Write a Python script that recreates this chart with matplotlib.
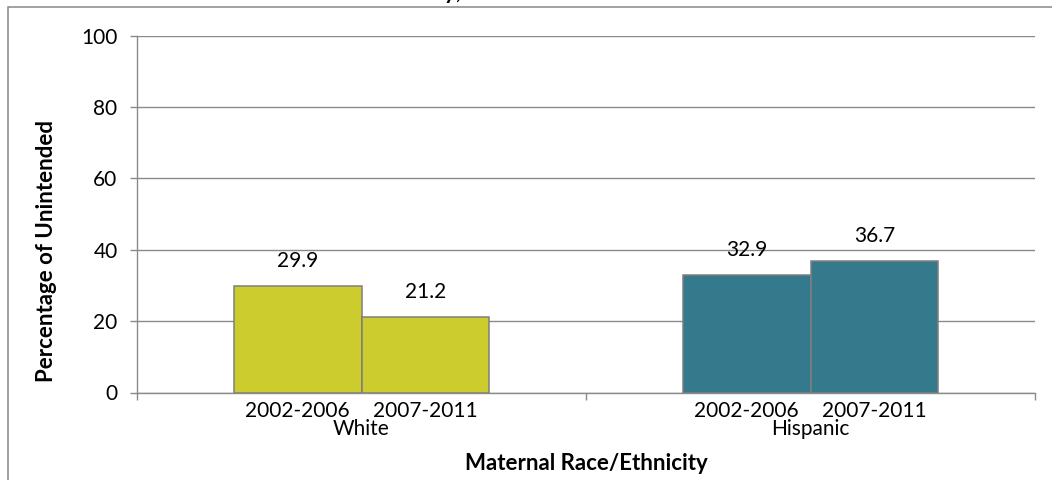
import matplotlib
matplotlib.use("Agg")
import matplotlib.pyplot as plt
from matplotlib.patches import Rectangle
import numpy as np

plt.rcParams['font.family'] = ['Lato', 'DejaVu Sans']

groups = ["White", "Hispanic"]
periods = ["2002-2006", "2007-2011"]
values = {"White": [29.9, 21.2], "Hispanic": [32.9, 36.7]}
group_colors = {"White": "#CDCC2F", "Hispanic": "#357A8C"}
y_ticks = [0, 20, 40, 60, 80, 100]
title = "Sutter County, 2002-2006 and 2007-2011"
y_label = "Percentage of Unintended"
x_label = "Maternal Race/Ethnicity"

W, H = 1052, 480
fig = plt.figure(figsize=(W / 100, H / 100), dpi=100)
fig.patch.set_facecolor("white")

# outer chart frame (left and top visible)
fig.add_artist(Rectangle((8 / W, -0.1), 1.2, 1 - 7 / H + 0.1, transform=fig.transFigure,
                         fill=False, edgecolor="#888888", linewidth=1.1))

ax = fig.add_axes([137 / W, 1 - 392.5 / H, (1035 - 137) / W, (392.5 - 35.5) / H])

grid_c = "#8a8a8a"
fs = 15
bw = 0.285
x = np.arange(len(groups))
for gi, g in enumerate(groups):
    for pi, p in enumerate(periods):
        xc = x[gi] + (pi - 0.5) * bw
        v = values[g][pi]
        ax.bar(xc, v, width=bw, color=group_colors[g], edgecolor="#7f7f7f", linewidth=1.1, zorder=3)
        ax.annotate(f"{v:.1f}", (xc, v), xytext=(0, 18), textcoords="offset points",
                    ha="center", va="center", fontsize=fs, color="black", zorder=4)
        ax.annotate(p, (xc, 0), xycoords=("data", "axes fraction"), xytext=(0, -13),
                    textcoords="offset points", ha="center", va="center", fontsize=fs)
    ax.annotate(g, (x[gi], 0), xycoords=("data", "axes fraction"), xytext=(0, -26),
                textcoords="offset points", ha="center", va="center", fontsize=fs)

ax.set_xlim(-0.5, len(groups) - 0.5)
ax.set_ylim(0, 100)
ax.set_yticks(y_ticks)
ax.set_yticklabels([str(t) for t in y_ticks], fontsize=fs)
ax.set_xticks(np.arange(len(groups) + 1) - 0.5)
ax.set_xticklabels([])
ax.yaxis.grid(True, color=grid_c, linewidth=1.0, zorder=0)
ax.set_axisbelow(True)
for s in ["top", "right"]:
    ax.spines[s].set_visible(False)
for s in ["left", "bottom"]:
    ax.spines[s].set_color(grid_c)
    ax.spines[s].set_linewidth(1.0)
ax.tick_params(axis="both", direction="out", length=5, width=1.0, color=grid_c, pad=9)

fig.text(47 / W, 1 - 251 / H, y_label, ha="center", va="center", rotation=90,
         fontsize=16, fontweight="bold")
fig.text(586 / W, 1 - 463 / H, x_label, ha="center", va="center", fontsize=16, fontweight="bold")

# title, mostly above the visible area (as in the reference)
fig.text(526 / W, 1 - 3 / H, title, ha="center", va="bottom", fontsize=16, fontweight="bold")

fig.savefig("out.png", dpi=100, facecolor="white")
